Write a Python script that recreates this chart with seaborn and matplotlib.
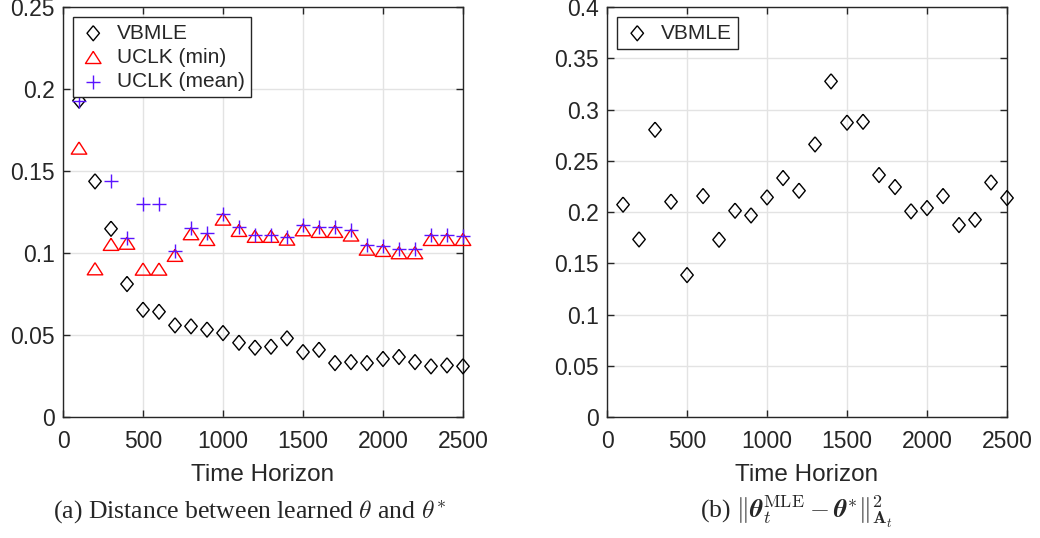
import matplotlib
matplotlib.use('Agg')
import matplotlib.pyplot as plt
import numpy as np
import pandas as pd
import seaborn as sns

sns.set_theme(style='whitegrid')
plt.rcParams['font.family'] = ['Liberation Sans', 'DejaVu Sans']
plt.rcParams['mathtext.fontset'] = 'stix'

# --- data ---
horizon = list(range(100, 2600, 100))

vbmle_dist = [0.193, 0.1437, 0.1148, 0.0811, 0.0654, 0.0642, 0.0559, 0.0553, 0.0533, 0.0512,
              0.0453, 0.0423, 0.0429, 0.0480, 0.0396, 0.0410, 0.0329, 0.0335, 0.0329, 0.0354,
              0.0366, 0.0335, 0.0309, 0.0315, 0.0309]
uclk_min = [0.164, 0.0904, 0.1053, 0.1060, 0.0902, 0.0902, 0.0986, 0.1118, 0.1083, 0.1207,
            0.1138, 0.1102, 0.1102, 0.1085, 0.1142, 0.1132, 0.1132, 0.1110, 0.1024, 0.1016,
            0.1002, 0.1002, 0.1083, 0.1083, 0.1083]
uclk_mean = [0.193, 0.205, 0.1437, 0.1090, 0.1300, 0.1300, 0.1012, 0.1152, 0.1122, 0.1238,
             0.1159, 0.1112, 0.1112, 0.1098, 0.1173, 0.1159, 0.1159, 0.1138, 0.1051, 0.1045,
             0.1026, 0.1026, 0.1110, 0.1110, 0.1106]

vbmle_norm = [0.2072, 0.1733, 0.2803, 0.2101, 0.1385, 0.2156, 0.1730, 0.2013, 0.1967, 0.2143,
              0.2332, 0.2208, 0.2660, 0.3275, 0.2872, 0.2881, 0.2361, 0.2244, 0.2007, 0.2039,
              0.2156, 0.1873, 0.1925, 0.2289, 0.2137]

df_a = pd.DataFrame({'t': horizon, 'vbmle': vbmle_dist, 'umin': uclk_min, 'umean': uclk_mean})
df_b = pd.DataFrame({'t': horizon, 'vbmle': vbmle_norm})

# MATLAB-like markers
diamond = [(0, 1), (0.83, 0), (0, -1), (-0.83, 0), (0, 1)]
triangle = [(0, 0.78), (1, -0.78), (-1, -0.78), (0, 0.78)]
purple = '#5a14ff'

fig = plt.figure(figsize=(10.4, 5.38), dpi=100)
ax1 = fig.add_axes([0.0606, 0.2249, 0.3846, 0.762])
ax2 = fig.add_axes([0.5837, 0.2249, 0.3846, 0.762])


def fmt(v):
    s = ('%.2f' % v).rstrip('0').rstrip('.')
    return s if s else '0'


def style_axes(ax, ymax, ystep):
    ax.set_facecolor('white')
    ax.set_xlim(0, 2500)
    ax.set_ylim(0, ymax)
    ax.set_xticks(np.arange(0, 2501, 500))
    yt = np.arange(0, ymax + 1e-9, ystep)
    ax.set_yticks(yt)
    ax.set_yticklabels([fmt(v) for v in yt])
    ax.grid(True, color='#e3e3e3', linewidth=1.0)
    for s in ax.spines.values():
        s.set_color('#262626')
        s.set_linewidth(1.0)
        s.set_visible(True)
    ax.tick_params(direction='in', length=5, width=1.0, colors='#262626',
                   labelsize=16.5, top=True, right=True, bottom=True, left=True,
                   labelcolor='#262626')
    ax.tick_params(axis='x', pad=9)
    ax.tick_params(axis='y', pad=6)
    ax.set_xlabel('Time Horizon', fontsize=17.5, color='#262626', labelpad=8)
    ax.set_ylabel('')


# (a)
sns.scatterplot(data=df_a, x='t', y='vbmle', ax=ax1, marker=diamond, s=117,
                facecolor='none', edgecolor='black', linewidth=1.0, label='VBMLE',
                zorder=3, clip_on=False)
sns.scatterplot(data=df_a, x='t', y='umin', ax=ax1, marker=triangle, s=125,
                facecolor='none', edgecolor='red', linewidth=1.0, label='UCLK (min)',
                zorder=3, clip_on=False)
sns.scatterplot(data=df_a, x='t', y='umean', ax=ax1, marker='+', s=90,
                color=purple, linewidth=1.0, label='UCLK (mean)', zorder=4, clip_on=False)
style_axes(ax1, 0.25, 0.05)
leg1 = ax1.legend(loc='upper left', fontsize=15, frameon=True, fancybox=False,
                  edgecolor='#262626', framealpha=1, borderpad=0.3, labelspacing=0.25,
                  handletextpad=0.5, borderaxespad=0.5, handlelength=1.3)
leg1.get_frame().set_linewidth(1.0)
leg1.set_zorder(10)

# (b)
sns.scatterplot(data=df_b, x='t', y='vbmle', ax=ax2, marker=diamond, s=117,
                facecolor='none', edgecolor='black', linewidth=1.0, label='VBMLE',
                zorder=3, clip_on=False)
style_axes(ax2, 0.4, 0.05)
leg2 = ax2.legend(loc='upper left', fontsize=15, frameon=True, fancybox=False,
                  edgecolor='#262626', framealpha=1, borderpad=0.3,
                  handletextpad=0.5, borderaxespad=0.5, handlelength=1.3)
leg2.get_frame().set_linewidth(1.0)

# captions
fig.text(0.240, 0.048, r'(a) Distance between learned $\theta$ and $\theta^{*}$',
         ha='center', va='center', fontsize=18.5, family='Liberation Serif',
         math_fontfamily='cm')
fig.text(0.766, 0.048,
         r'(b) $\|\boldsymbol{\theta}_t^{\mathrm{MLE}} - \boldsymbol{\theta}^{*}\|^2_{\mathbf{A}_t}$',
         ha='center', va='center', fontsize=18.5, family='Liberation Serif',
         math_fontfamily='cm')

fig.savefig('out.png', dpi=100)
